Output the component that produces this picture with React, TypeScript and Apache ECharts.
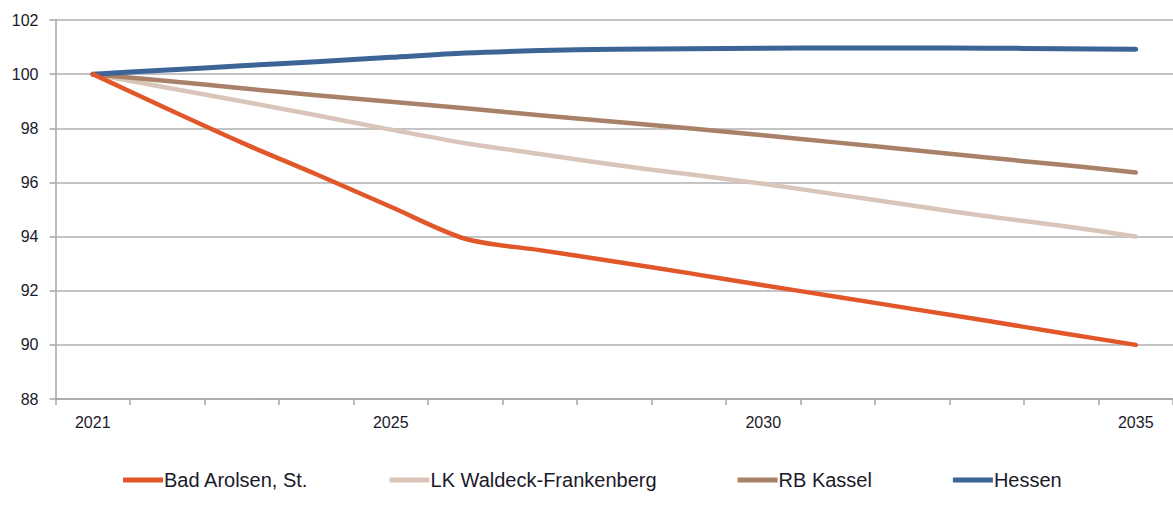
import React, { useEffect, useRef } from "react";
import * as echarts from "echarts";

const years = ["2021","2022","2023","2024","2025","2026","2027","2028","2029","2030","2031","2032","2033","2034","2035"];
const labelYears = ["2021", "2025", "2030", "2035"];
const badArolsen = [100, 98.72, 97.47, 96.3, 95.1, 93.92, 93.5, 93.08, 92.65, 92.2, 91.77, 91.33, 90.89, 90.44, 90.0];
const lkWaldeck = [100, 99.5, 99.0, 98.48, 97.95, 97.45, 97.05, 96.65, 96.3, 95.95, 95.55, 95.15, 94.75, 94.4, 94.0];
const rbKassel = [100, 99.75, 99.48, 99.22, 98.98, 98.74, 98.48, 98.24, 98.0, 97.74, 97.47, 97.2, 96.92, 96.65, 96.37];
const hessen = [100, 100.15, 100.31, 100.46, 100.62, 100.78, 100.87, 100.92, 100.94, 100.96, 100.97, 100.97, 100.96, 100.94, 100.92];
const seriesNames = ["Bad Arolsen, St.", "LK Waldeck-Frankenberg", "RB Kassel", "Hessen"];
const seriesColors = ["#E2572A", "#D9C5B9", "#A98068", "#3D6497"];

const sans = "'Liberation Sans', Arial, sans-serif";

export default function App() {
  const ref = useRef<HTMLDivElement>(null);
  useEffect(() => {
    if (!ref.current) return;
    const chart = echarts.init(ref.current, null, { renderer: "svg" });
    const data = [badArolsen, lkWaldeck, rbKassel, hessen];
    chart.setOption({
      animation: false,
      backgroundColor: "#ffffff",
      grid: { left: 55.5, top: 20, width: 1120, height: 379 },
      legend: {
        left: 123,
        top: 470,
        padding: 0,
        itemWidth: 40,
        itemHeight: 5,
        itemGap: 81,
        icon: "rect",
        data: seriesNames,
        textStyle: { fontFamily: sans, fontSize: 20, color: "#1a1a2a", padding: [0, 0, 0, -4] },
      },
      xAxis: {
        type: "category",
        data: years,
        boundaryGap: true,
        axisLine: { lineStyle: { color: "#a6a6a6", width: 1.5 } },
        axisTick: { show: true, interval: 0, length: 6, lineStyle: { color: "#a6a6a6", width: 1.5 } },
        axisLabel: {
          interval: (i: number, v: string) => labelYears.includes(v),
          fontFamily: sans,
          fontSize: 16,
          color: "#1a1a2a",
          margin: 15,
        },
        splitLine: { show: false },
      },
      yAxis: {
        type: "value",
        min: 88,
        max: 102,
        interval: 2,
        axisLine: { show: true, lineStyle: { color: "#a6a6a6", width: 1.5 } },
        axisTick: { show: true, length: 6, lineStyle: { color: "#a6a6a6", width: 1.5 } },
        axisLabel: { fontFamily: sans, fontSize: 16, color: "#1a1a2a", margin: 17 },
        splitLine: { show: true, lineStyle: { color: "#c4c4c4", width: 2 } },
      },
      series: seriesNames.map((name, k) => ({
        name,
        type: "line",
        data: data[k],
        smooth: 0.3,
        showSymbol: false,
        symbol: "none",
        color: seriesColors[k],
        lineStyle: { color: seriesColors[k], width: k === 3 ? 5 : 4.5, cap: "round", join: "round" },
        z: k === 0 ? 5 : 3,
      })),
    });
    return () => chart.dispose();
  }, []);
  return <div ref={ref} style={{ position: "absolute", left: 0, top: 0, width: 1173, height: 515 }} />;
}
